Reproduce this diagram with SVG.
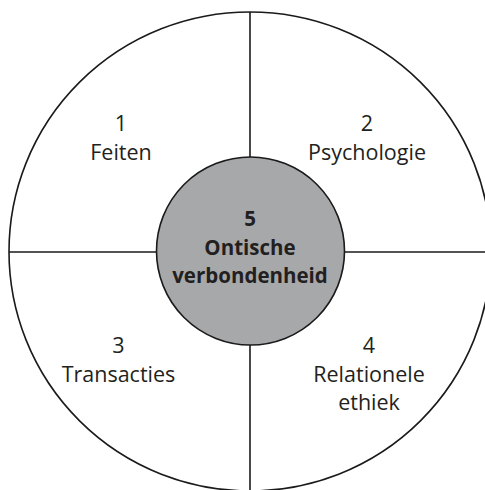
<svg xmlns="http://www.w3.org/2000/svg" width="485" height="490" viewBox="0 0 485 490">
<style>
.l{stroke:#1a1a1a;stroke-width:1.6;fill:none}
.t{font-family:"Open Sans","Noto Sans",sans-serif;font-size:21.5px;fill:#231f20;text-anchor:middle}
.b{font-weight:bold;font-size:20.5px}
</style>
<rect width="485" height="490" fill="#ffffff"/>
<g id="connectors">
<ellipse class="l" cx="250" cy="251.5" rx="241" ry="239.5"/>
<line class="l" x1="250" y1="12" x2="250" y2="490"/>
<line class="l" x1="9" y1="252" x2="485" y2="252"/>
</g>
<g id="n1"><text class="t" x="121" y="131">1</text><text class="t" x="121" y="160">Feiten</text></g>
<g id="n2"><text class="t" x="367" y="131">2</text><text class="t" x="367" y="160">Psychologie</text></g>
<g id="n3"><text class="t" x="118.5" y="353">3</text><text class="t" x="118.5" y="382">Transacties</text></g>
<g id="n4"><text class="t" x="369" y="353">4</text><text class="t" x="369" y="382">Relationele</text><text class="t" x="369" y="410">ethiek</text></g>
<g id="n5"><circle cx="250.5" cy="251" r="94" fill="#a7a8aa" stroke="#1a1a1a" stroke-width="1.6"/>
<text class="t b" x="250" y="226">5</text><text class="t b" x="250" y="255">Ontische</text><text class="t b" x="250" y="283">verbondenheid</text></g>
</svg>
